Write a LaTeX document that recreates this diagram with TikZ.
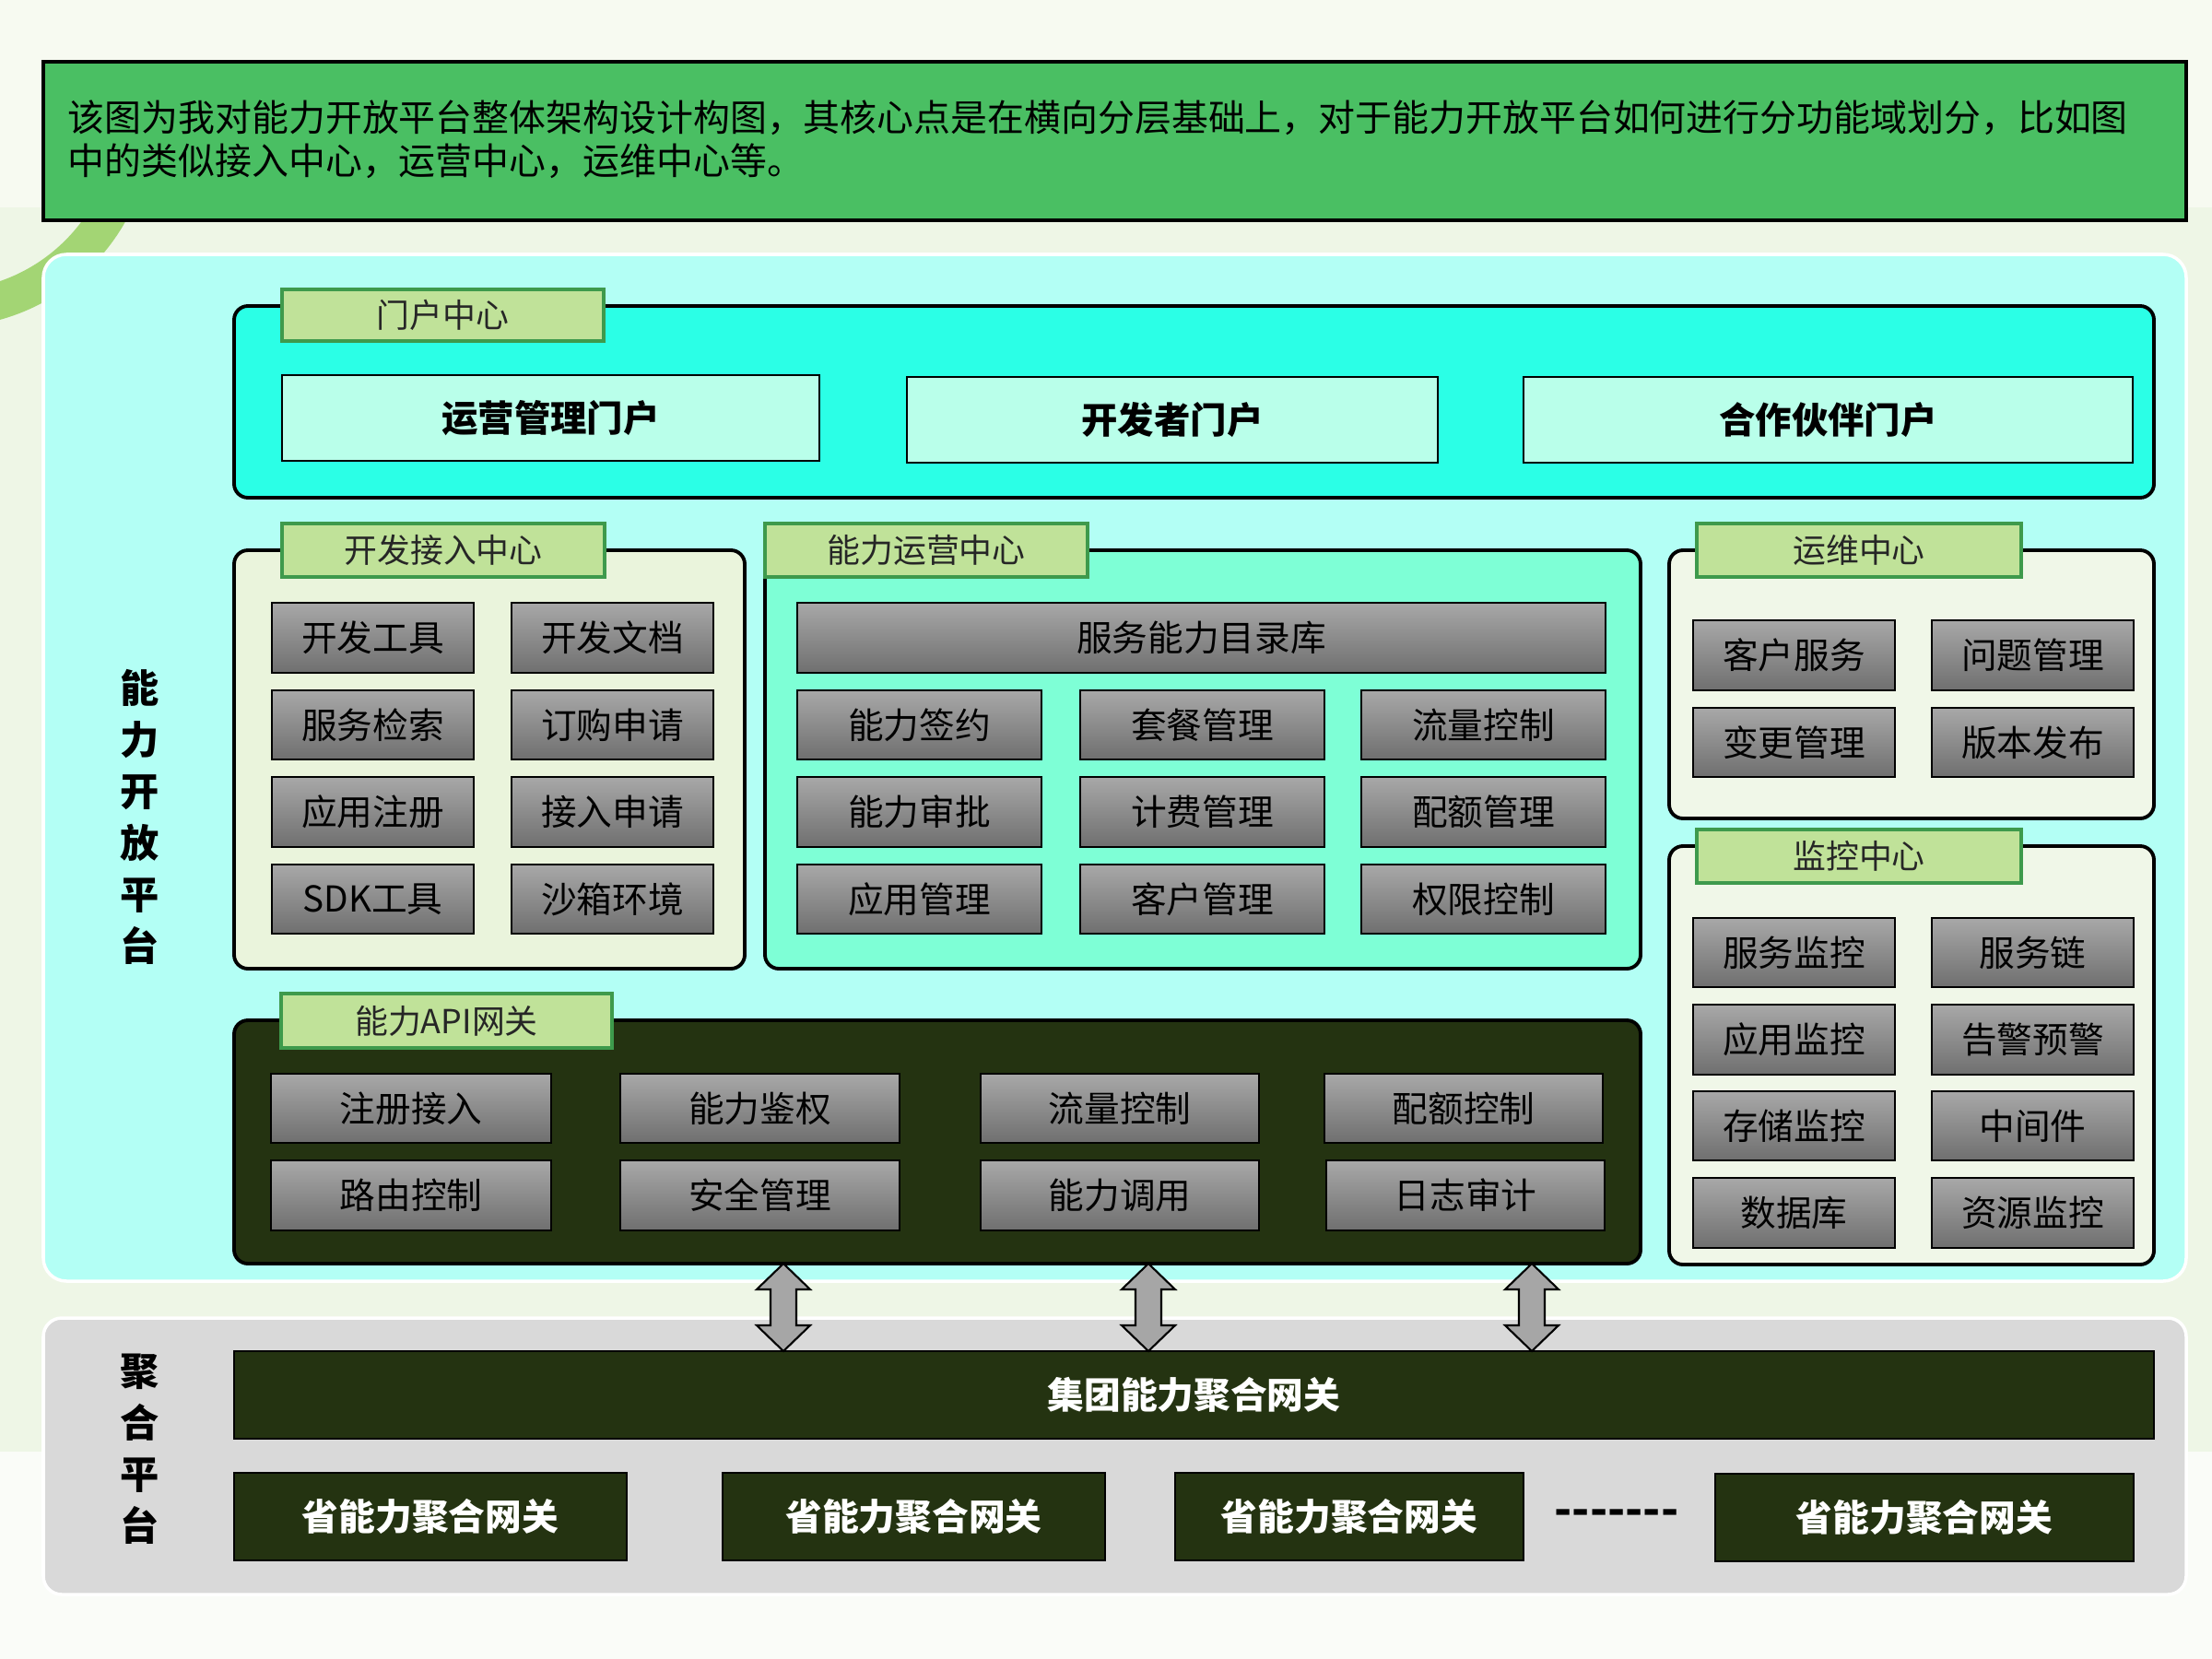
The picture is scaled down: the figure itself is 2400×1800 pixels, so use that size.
\documentclass[tikz,border=0pt]{standalone}
\usepackage{fontspec}
\setmainfont{Noto Sans CJK SC}
\definecolor{bgtop}{HTML}{F7FAF1}
\definecolor{bgband}{HTML}{EEF6E6}
\definecolor{bgbot}{HTML}{FAFCF8}
\definecolor{ringgreen}{HTML}{A3D574}
\definecolor{headfill}{HTML}{4ABF63}
\definecolor{panelcyan}{HTML}{B3FFF5}
\definecolor{portalfill}{HTML}{2BFFE6}
\definecolor{portalinner}{HTML}{B9FFEA}
\definecolor{devfill}{HTML}{EAF4DC}
\definecolor{opsfill}{HTML}{7EFFD6}
\definecolor{mntfill}{HTML}{F0F7E8}
\definecolor{darkolive}{HTML}{243311}
\definecolor{tabfill}{HTML}{C0E299}
\definecolor{tabline}{HTML}{3E9A4C}
\definecolor{itemtop}{HTML}{A8A8A8}
\definecolor{itembot}{HTML}{6F6F6F}
\definecolor{aggfill}{HTML}{D9D9D9}
\definecolor{arrowfill}{HTML}{A6A6A6}
\newcommand\mybox[7][]{\node[#1, minimum width={(#5-#3)*0.01cm}, minimum height={(#6-#4)*0.01cm}] (#2) at ({(#3+#5)/2},{(#4+#6)/2}) {#7};}
\tikzset{
  item/.style={draw=black, line width=0.7pt, top color=itemtop, bottom color=itembot, font=\fontsize{11}{13}\selectfont, text=black, inner sep=0pt},
  tabbox/.style={draw=tabline, line width=1pt, fill=tabfill, font=\fontsize{10.2}{12}\selectfont, text=black!85, inner sep=0pt},
  grp/.style={draw=black, line width=1.1pt, rounded corners=0.15cm, inner sep=0pt},
  portal/.style={draw=black, line width=0.8pt, fill=portalinner, font=\fontsize{11.2}{13}\selectfont\bfseries, inner sep=0pt},
  gw/.style={draw=black, line width=0.8pt, fill=darkolive, text=white, font=\fontsize{11.3}{13}\selectfont\bfseries, inner sep=0pt},
  vlabel/.style={font=\fontsize{12}{15.93}\selectfont\bfseries, align=center, inner sep=0pt},
  dblarrow/.style={draw=black, line width=0.6pt, fill=arrowfill, line join=miter}
}
\begin{document}
\begin{tikzpicture}[x=0.01cm, y=-0.01cm]
% background
\fill[bgtop] (0,0) rectangle (2400,1800);
\fill[bgband] (0,225) rectangle (2400,1575);
\fill[bgbot] (0,1575) rectangle (2400,1800);
\begin{scope}
  \clip (0,225) rectangle (400,600);
  \fill[ringgreen, even odd rule] (-60,130) circle (225) (-60,130) circle (185);
\end{scope}
% header
\mybox[draw=black, line width=1pt, fill=headfill]{header}{47}{67}{2372}{239}{}
\node[anchor=west, align=left, font=\fontsize{11.35}{13.4}\selectfont, inner sep=0pt] (headtext) at (73,151)
  {该图为我对能力开放平台整体架构设计构图，其核心点是在横向分层基础上，对于能力开放平台如何进行分功能域划分，比如图\\中的类似接入中心，运营中心，运维中心等。};
% main panel
\mybox[fill=panelcyan, draw=white, line width=1pt, rounded corners=0.25cm]{panel}{47}{276}{2372}{1390}{}
\node[vlabel] (platlabel) at (152,886) {能\\力\\开\\放\\平\\台};
% aggregation panel
\mybox[fill=aggfill, draw=white, line width=1pt, rounded corners=0.2cm]{aggpanel}{47}{1430}{2372}{1730}{}
\node[vlabel] (agglabel) at (152,1572) {聚\\合\\平\\台};

% portal center
\mybox[grp, fill=portalfill]{portalgrp}{254}{332}{2337}{540}{}
\mybox[tabbox]{portaltab}{306}{314}{655}{370}{门户中心}
\mybox[portal]{p1}{306}{407}{889}{500}{运营管理门户}
\mybox[portal]{p2}{984}{409}{1560}{502}{开发者门户}
\mybox[portal]{p3}{1653}{409}{2314}{502}{合作伙伴门户}

% dev access center
\mybox[grp, fill=devfill]{devgrp}{254}{597}{808}{1051}{}
\mybox[tabbox]{devtab}{306}{568}{656}{626}{开发接入中心}
\mybox[item]{d11}{295}{654}{514}{730}{开发工具}
\mybox[item]{d12}{555}{654}{774}{730}{开发文档}
\mybox[item]{d21}{295}{749}{514}{824}{服务检索}
\mybox[item]{d22}{555}{749}{774}{824}{订购申请}
\mybox[item]{d31}{295}{843}{514}{919}{应用注册}
\mybox[item]{d32}{555}{843}{774}{919}{接入申请}
\mybox[item]{d41}{295}{938}{514}{1013}{SDK工具}
\mybox[item]{d42}{555}{938}{774}{1013}{沙箱环境}

% capability operation center
\mybox[grp, fill=opsfill]{opsgrp}{830}{597}{1780}{1051}{}
\mybox[tabbox]{opstab}{830}{568}{1180}{626}{能力运营中心}
\mybox[item]{o0}{865}{654}{1742}{730}{服务能力目录库}
\mybox[item]{o11}{865}{749}{1130}{824}{能力签约}
\mybox[item]{o12}{1172}{749}{1437}{824}{套餐管理}
\mybox[item]{o13}{1477}{749}{1742}{824}{流量控制}
\mybox[item]{o21}{865}{843}{1130}{919}{能力审批}
\mybox[item]{o22}{1172}{843}{1437}{919}{计费管理}
\mybox[item]{o23}{1477}{843}{1742}{919}{配额管理}
\mybox[item]{o31}{865}{938}{1130}{1013}{应用管理}
\mybox[item]{o32}{1172}{938}{1437}{1013}{客户管理}
\mybox[item]{o33}{1477}{938}{1742}{1013}{权限控制}

% maintenance center
\mybox[grp, fill=mntfill]{mntgrp}{1811}{597}{2337}{888}{}
\mybox[tabbox]{mnttab}{1841}{568}{2193}{626}{运维中心}
\mybox[item]{m11}{1837}{673}{2056}{749}{客户服务}
\mybox[item]{m12}{2096}{673}{2315}{749}{问题管理}
\mybox[item]{m21}{1837}{768}{2056}{843}{变更管理}
\mybox[item]{m22}{2096}{768}{2315}{843}{版本发布}

% monitoring center
\mybox[grp, fill=mntfill]{mongrp}{1811}{918}{2337}{1372}{}
\mybox[tabbox]{montab}{1841}{900}{2193}{958}{监控中心}
\mybox[item]{n11}{1837}{996}{2056}{1071}{服务监控}
\mybox[item]{n12}{2096}{996}{2315}{1071}{服务链}
\mybox[item]{n21}{1837}{1090}{2056}{1166}{应用监控}
\mybox[item]{n22}{2096}{1090}{2315}{1166}{告警预警}
\mybox[item]{n31}{1837}{1184}{2056}{1259}{存储监控}
\mybox[item]{n32}{2096}{1184}{2315}{1259}{中间件}
\mybox[item]{n41}{1837}{1278}{2056}{1354}{数据库}
\mybox[item]{n42}{2096}{1278}{2315}{1354}{资源监控}

% API gateway
\mybox[grp, fill=darkolive]{apigrp}{254}{1107}{1780}{1371}{}
\mybox[tabbox]{apitab}{305}{1078}{664}{1137}{能力API网关}
\mybox[item]{a11}{294}{1165}{598}{1240}{注册接入}
\mybox[item]{a12}{673}{1165}{976}{1240}{能力鉴权}
\mybox[item]{a13}{1064}{1165}{1366}{1240}{流量控制}
\mybox[item]{a14}{1437}{1165}{1739}{1240}{配额控制}
\mybox[item]{a21}{294}{1259}{598}{1335}{路由控制}
\mybox[item]{a22}{673}{1259}{976}{1335}{安全管理}
\mybox[item]{a23}{1064}{1259}{1366}{1335}{能力调用}
\mybox[item]{a24}{1439}{1259}{1741}{1335}{日志审计}

% aggregation gateways
\mybox[gw]{group}{254}{1466}{2337}{1561}{集团能力聚合网关}
\mybox[gw]{prov1}{254}{1598}{680}{1693}{省能力聚合网关}
\mybox[gw]{prov2}{784}{1598}{1199}{1693}{省能力聚合网关}
\mybox[gw]{prov3}{1275}{1598}{1653}{1693}{省能力聚合网关}
\mybox[gw]{prov4}{1861}{1599}{2315}{1694}{省能力聚合网关}
\node[font=\fontsize{14.3}{16}\selectfont\bfseries, inner sep=0pt] (dots) at (1754,1647) {-{}-{}-{}-{}-{}-{}-};

% double arrows between API gateway and group gateway
\foreach \cx in {850,1246,1662} {
  \draw[dblarrow] (\cx,1371) -- (\cx+29,1399) -- (\cx+14,1399) -- (\cx+14,1438) -- (\cx+29,1438)
    -- (\cx,1466) -- (\cx-29,1438) -- (\cx-14,1438) -- (\cx-14,1399) -- (\cx-29,1399) -- cycle;
}
\end{tikzpicture}
\end{document}
